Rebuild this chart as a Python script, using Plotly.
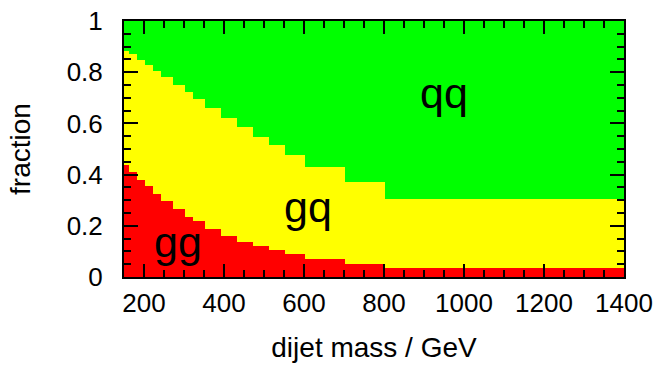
import plotly.graph_objects as go

# bin edges of dijet mass (GeV)
bin_edges = [150, 162, 182, 202, 222, 242, 272, 302, 322, 352, 392, 432,
             472, 512, 552, 602, 702, 802, 1400]
# gg fraction per bin
frac_gg = [0.439, 0.409, 0.380, 0.357, 0.324, 0.295, 0.265, 0.236, 0.217,
           0.188, 0.162, 0.137, 0.122, 0.105, 0.090, 0.071, 0.052, 0.034]
# gg + gq cumulative fraction per bin
frac_gg_gq = [0.884, 0.871, 0.848, 0.829, 0.805, 0.783, 0.749, 0.723, 0.697,
              0.661, 0.620, 0.585, 0.548, 0.514, 0.478, 0.431, 0.370, 0.306]

labels = ["gg", "gq", "qq"]
colors = ["#ff0000", "#ffff00", "#00ff00"]

centers = [(a + b) / 2 for a, b in zip(bin_edges[:-1], bin_edges[1:])]
widths = [b - a for a, b in zip(bin_edges[:-1], bin_edges[1:])]
frac_gq = [c - g for c, g in zip(frac_gg_gq, frac_gg)]
frac_qq = [1 - c for c in frac_gg_gq]

fig = go.Figure()
for name, vals, col in zip(labels, [frac_gg, frac_gq, frac_qq], colors):
    fig.add_trace(go.Bar(x=centers, y=vals, width=widths, name=name,
                         marker=dict(color=col, line=dict(width=0)),
                         showlegend=False, hoverinfo="skip"))

font = "Liberation Sans, Arial, Helvetica, sans-serif"
ann = [("qq", 950, 0.718), ("gq", 610, 0.275), ("gg", 285, 0.135)]
for t, x, y in ann:
    fig.add_annotation(x=x, y=y, text=t, showarrow=False,
                       font=dict(family=font, size=43, color="black"),
                       xanchor="center", yanchor="middle")

fig.update_layout(
    width=666, height=367,
    margin=dict(l=124, r=42, t=21, b=90, autoexpand=False),
    barmode="stack", bargap=0,
    plot_bgcolor="white", paper_bgcolor="white",
    font=dict(family=font, size=26, color="black"),
)
fig.update_xaxes(range=[150, 1400], tickmode="linear", tick0=0, dtick=200,
                 ticks="inside", ticklen=13, tickwidth=2, tickcolor="black",
                 minor=dict(dtick=50, ticks="inside", ticklen=7, tickwidth=1.5, tickcolor="black"),
                 showline=True, linewidth=2, linecolor="black", mirror="ticks",
                 showgrid=False, zeroline=False, automargin=False,
                 tickfont=dict(size=26), ticklabelstandoff=2,
                 title=dict(text="dijet mass / GeV", font=dict(size=28), standoff=20))
fig.update_yaxes(range=[0, 1], tickmode="linear", tick0=0, dtick=0.2,
                 ticks="inside", ticklen=14, tickwidth=2, tickcolor="black",
                 minor=dict(dtick=0.05, ticks="inside", ticklen=7, tickwidth=1.5, tickcolor="black"),
                 showline=True, linewidth=2, linecolor="black", mirror="ticks",
                 showgrid=False, zeroline=False, automargin=False,
                 tickfont=dict(size=26), ticklabelstandoff=14,
                 title=dict(text="fraction", font=dict(size=28), standoff=28))

fig.write_html("out.html", config={"displayModeBar": False},
               post_script="document.body.style.margin='0';document.body.style.overflow='hidden';")
